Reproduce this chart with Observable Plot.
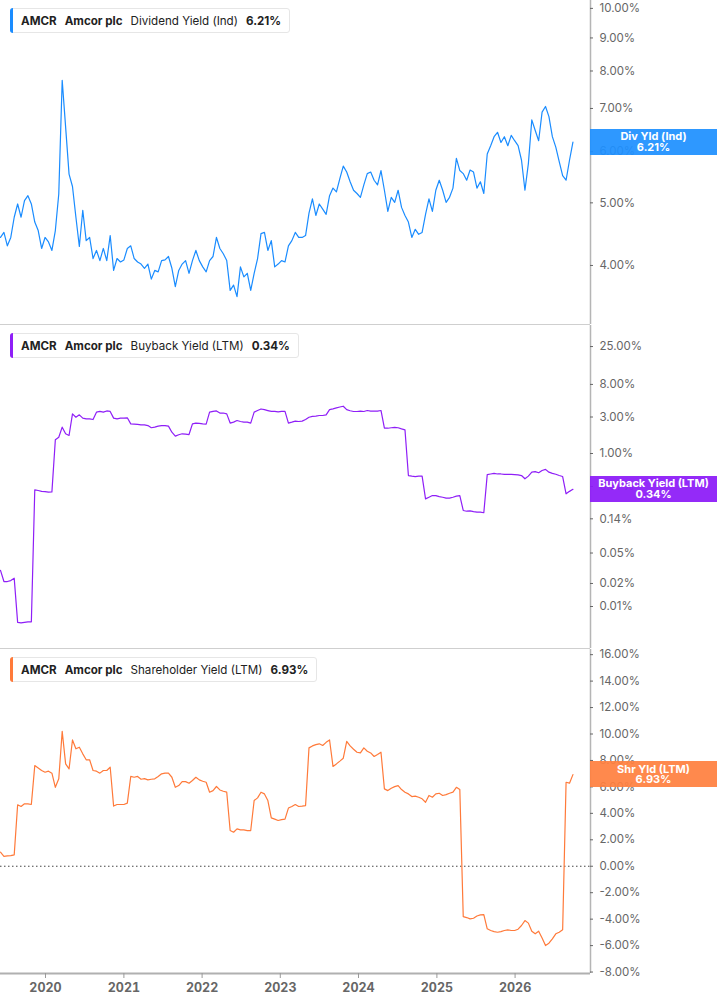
<!DOCTYPE html>
<html><head><meta charset="utf-8">
<script src="https://cdn.jsdelivr.net/npm/d3@7"></script>
<script src="https://cdn.jsdelivr.net/npm/@observablehq/plot@0.6"></script>
<style>
body{margin:0;background:#fff;font-family:Inter,"Noto Sans",sans-serif;}
#wrap{position:relative;width:717px;height:1005px;overflow:hidden;background:#fff;}
.panel{position:absolute;left:0;}
.panel svg{overflow:visible;}
.hdr{position:absolute;left:10px;height:25px;display:flex;align-items:center;gap:8px;padding:0 8px 0 10px;background:#fff;border:1px solid #e6e6e6;border-radius:3px;font-size:11.6px;color:#222;box-sizing:border-box;white-space:nowrap;}
.hdr .bar{position:absolute;left:-1px;top:-1px;bottom:-1px;width:3px;border-radius:3px 0 0 3px;}
.hdr b{font-weight:700;}
.badge{position:absolute;left:590px;width:127px;height:26px;color:#fff;font-weight:700;font-size:11px;line-height:10.5px;text-align:center;display:flex;flex-direction:column;justify-content:center;}
</style></head>
<body>
<div id="wrap"></div>
<script>
// ---- data ----
const startDate = "2019-06-05";
const stepDays = 16;
const xDomain = ["2019-06-05", "2026-12-19"];
const years = [2020, 2021, 2022, 2023, 2024, 2025, 2026];

const divYield = [4.42,4.50,4.29,4.42,4.75,4.98,4.75,5.04,5.13,4.98,4.67,4.53,4.25,4.42,4.35,4.22,4.53,5.16,7.74,6.55,
5.54,5.30,4.75,4.28,4.87,4.37,4.42,4.10,4.22,4.07,4.25,4.07,4.45,3.93,4.10,4.05,4.08,4.25,4.29,4.10,
4.05,4.02,3.96,4.02,3.81,3.93,3.91,4.07,4.08,4.13,3.96,3.71,3.93,4.02,4.07,3.89,4.07,4.22,4.07,3.98,
3.91,4.07,4.13,4.42,4.25,4.17,4.07,3.66,3.73,3.58,3.98,3.84,3.89,3.66,3.89,4.10,4.48,4.50,4.22,4.37,
3.98,4.02,4.07,4.05,4.29,4.37,4.50,4.42,4.42,4.45,4.82,5.07,4.78,4.98,4.89,4.80,5.13,5.27,5.20,5.45,
5.70,5.58,5.39,5.23,5.17,5.10,5.33,5.55,5.58,5.42,5.33,5.61,5.23,4.85,5.10,5.01,5.23,4.92,4.78,4.67,
4.42,4.55,4.47,4.50,4.80,5.07,4.85,5.23,5.42,5.23,5.01,5.10,5.27,5.86,5.61,5.55,5.42,5.62,5.58,5.27,
5.39,5.17,5.95,6.13,6.33,6.43,6.20,6.33,6.13,6.36,6.24,6.13,5.82,5.23,5.75,6.72,6.47,6.24,6.91,7.05,
6.80,6.33,6.10,5.79,5.51,5.42,5.82,6.21];

const buybackYield = [0.0296,0.0212,0.0212,0.0218,0.0234,0.0062,0.0061,0.0062,0.0063,0.0063,0.335,0.328,0.32,0.318,0.312,0.315,1.51,1.63,2.21,1.81,
1.72,3.30,2.98,3.20,2.90,2.84,2.84,2.78,3.47,3.55,3.47,3.60,3.55,2.90,2.84,2.90,2.90,2.93,2.44,2.42,
2.40,2.37,2.37,2.32,2.17,2.21,2.28,2.32,2.32,2.28,1.90,1.69,1.76,1.81,1.79,1.77,2.44,2.50,2.47,2.44,
2.42,3.47,3.55,3.60,3.38,3.38,3.30,2.50,2.57,2.70,2.62,2.57,2.57,2.50,3.47,3.64,3.82,3.74,3.64,3.55,
3.55,3.50,3.55,3.55,2.50,2.57,2.65,2.62,2.65,2.78,2.98,3.05,3.08,3.14,3.14,3.20,3.75,3.84,3.95,4.05,
4.15,3.75,3.62,3.54,3.54,3.58,3.54,3.65,3.58,3.58,3.58,3.65,2.14,2.14,2.17,2.19,2.17,2.10,2.04,0.515,
0.506,0.50,0.506,0.506,0.255,0.268,0.282,0.282,0.273,0.268,0.261,0.261,0.268,0.277,0.282,0.180,0.176,0.178,0.174,0.171,
0.171,0.168,0.53,0.54,0.55,0.54,0.54,0.535,0.535,0.535,0.53,0.525,0.515,0.467,0.506,0.57,0.58,0.56,0.60,0.62,
0.57,0.55,0.535,0.515,0.50,0.297,0.32,0.34];

const shareholderYield = [1.06,0.75,0.78,0.81,0.86,4.65,4.52,4.72,4.72,4.67,7.61,7.43,7.24,7.11,7.19,7.04,5.97,6.61,10.2,7.74,
7.36,9.55,8.88,9.00,8.50,8.05,8.05,7.24,7.19,7.04,7.24,7.24,7.49,4.55,4.67,4.67,4.67,4.77,6.79,6.73,
6.79,6.58,6.63,6.53,6.58,6.61,6.79,6.99,7.04,7.04,6.73,5.97,6.10,6.40,6.40,6.28,6.48,6.73,6.53,6.43,
6.35,5.60,5.72,6.03,5.77,5.67,5.60,2.70,2.57,2.83,2.75,2.75,2.70,2.70,4.97,5.17,5.60,5.47,4.97,3.66,
3.56,3.46,3.53,3.56,4.40,4.52,4.67,4.52,4.55,4.59,8.95,9.10,9.20,9.26,9.13,9.37,9.55,7.55,7.74,7.95,
8.17,9.45,9.10,8.85,8.62,8.57,8.95,8.70,8.57,8.30,8.45,8.62,5.85,5.72,5.90,6.02,6.10,5.80,5.60,5.47,
5.27,5.30,5.22,5.10,4.84,5.35,5.22,5.47,5.52,5.35,5.42,5.52,5.60,5.97,5.80,-3.81,-3.88,-3.98,-3.93,-3.76,
-3.68,-3.66,-4.73,-4.86,-4.94,-4.99,-4.94,-4.86,-4.81,-4.86,-4.86,-4.76,-4.48,-4.11,-4.30,-4.91,-5.11,-4.91,-5.42,-6.00,
-5.82,-5.49,-5.11,-4.99,-4.81,6.35,6.28,6.93];

const divTicks = [4, 5, 6, 7, 8, 9, 10];
const buybackTicks = [0.01, 0.02, 0.05, 0.14, 0.37, 1, 3, 8, 25];
const shrTicks = [-8, -6, -4, -2, 0, 2, 4, 6, 8, 10, 12, 14, 16];

const panels = [
  {values: divYield, ticks: divTicks, type:"log", domain:[3.241, 10.285], top:0, height:325, mb:1,
   color:"#1a8cff", badgeColor:"rgba(30,144,255,0.93)", badge:["Div Yld (Ind)","6.21%"],
   header:["AMCR","Amcor plc","Dividend Yield (Ind)","6.21%"], hdrTop:8},
  {values: buybackYield, ticks: buybackTicks, type:"log", domain:[0.002825, 47.12], top:325, height:324, mb:1,
   color:"#8f1ff7", badgeColor:"rgba(140,26,247,0.93)", badge:["Buyback Yield (LTM)","0.34%"],
   header:["AMCR","Amcor plc","Buyback Yield (LTM)","0.34%"], hdrTop:333},
  {values: shareholderYield, ticks: shrTicks, type:"linear", domain:[-8.11, 16.39], top:649, height:356, mb:32,
   color:"#ff7a3a", badgeColor:"rgba(255,128,64,0.93)", badge:["Shr Yld (LTM)","6.93%"],
   header:["AMCR","Amcor plc","Shareholder Yield (LTM)","6.93%"], hdrTop:657}
];

const wrap = document.getElementById("wrap");
const fmt = d => d.toFixed(2) + "%";
const xEnd = new Date(xDomain[1]);

panels.forEach((p, k) => {
  const data = p.values.map((v, i) => ({date: d3.utcDay.offset(new Date(startDate), i * stepDays), value: v}));
  const isBottom = k === panels.length - 1;
  const marks = [];
  if (!isBottom) marks.push(Plot.ruleY([p.domain[0]], {stroke:"#cfcfcf", strokeWidth:1}));
  if (isBottom) {
    marks.push(Plot.ruleY([0], {stroke:"#444", strokeWidth:1, strokeDasharray:"1.5,2.5"}));
    marks.push(Plot.ruleY([p.domain[0]], {stroke:"#b0b0b0", strokeWidth:2}));
    marks.push(Plot.axisX(years.map(y => new Date(Date.UTC(y, 0, 1))), {
      anchor:"bottom", tickSize:5, tickPadding:5, tickFormat: d3.utcFormat("%Y"),
      fontSize:12.5, fontWeight:"bold", color:"#666", label:null, stroke:"#999"
    }));
  }
  marks.push(Plot.ruleX([xEnd], {stroke:"#b5b5b5", strokeWidth:1.5}));
  // right-hand value axis: tick marks + labels
  marks.push(Plot.ruleY(p.ticks, {y: d => d, x1: xEnd, x2: xEnd, insetRight: -3, stroke:"#666"}));
  marks.push(Plot.text(p.ticks, {y: d => d, x: xEnd, text: fmt, dx: 9, textAnchor:"start",
    fill:"#666", fontSize:11.5}));
  marks.push(Plot.line(data, {x:"date", y:"value", stroke:p.color, strokeWidth:1.2}));

  const chart = Plot.plot({
    width:717, height:p.height,
    marginTop:0, marginBottom:p.mb, marginLeft:0, marginRight:127,
    style:{fontFamily:"Inter, 'Noto Sans', sans-serif", background:"transparent", overflow:"visible"},
    x:{type:"utc", domain:xDomain.map(d => new Date(d)), axis: isBottom ? undefined : null},
    y:{type:p.type, domain:p.domain, axis:null},
    marks
  });
  const div = document.createElement("div");
  div.className = "panel";
  div.style.top = p.top + "px";
  div.appendChild(chart);
  wrap.appendChild(div);

  // badge at last value
  const last = p.values[p.values.length - 1];
  const yPos = chart.scale("y").apply(last);
  const b = document.createElement("div");
  b.className = "badge";
  b.style.background = p.badgeColor;
  b.style.top = (p.top + yPos - 13) + "px";
  b.innerHTML = `<div>${p.badge[0]}</div><div>${p.badge[1]}</div>`;
  wrap.appendChild(b);

  // header
  const h = document.createElement("div");
  h.className = "hdr";
  h.style.top = p.hdrTop + "px";
  h.innerHTML = `<span class="bar" style="background:${p.color}"></span><b>${p.header[0]}</b><b>${p.header[1]}</b><span>${p.header[2]}</span><b>${p.header[3]}</b>`;
  wrap.appendChild(h);
});
</script>
</body></html>
